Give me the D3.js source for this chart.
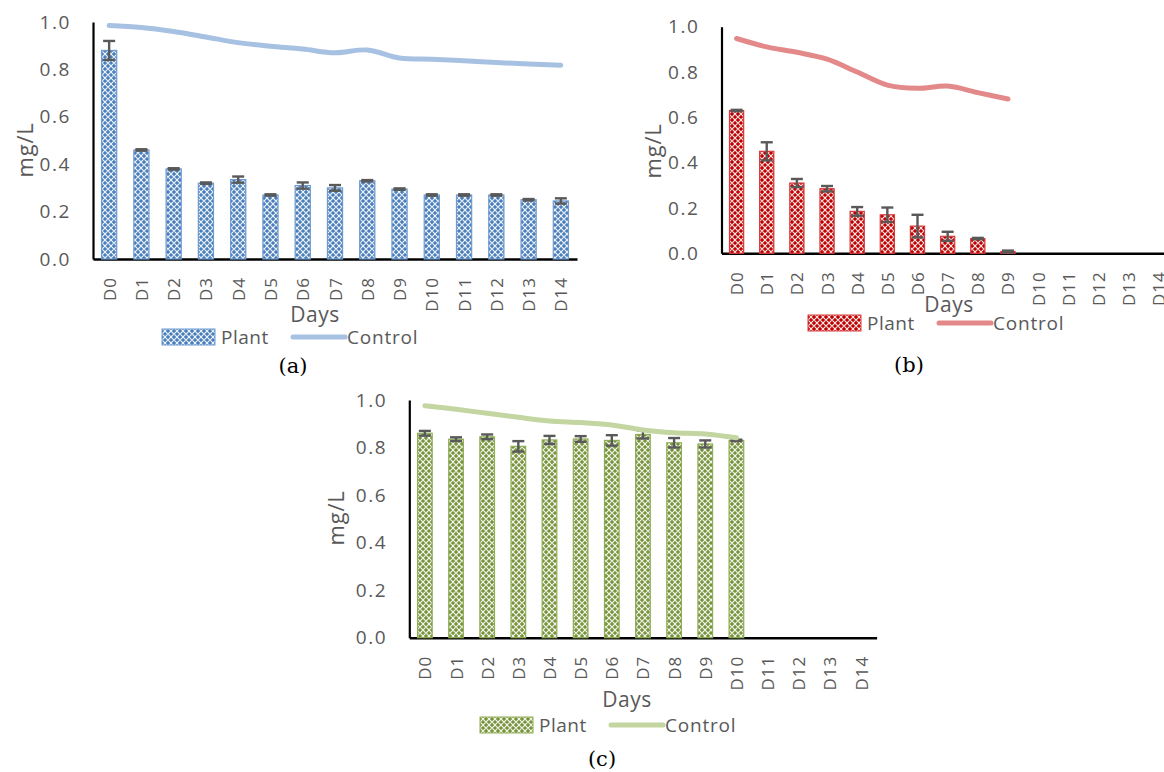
<!DOCTYPE html>
<html>
<head>
<meta charset="utf-8">
<script src="https://cdn.jsdelivr.net/npm/d3@7/dist/d3.min.js"></script>
<style>
  html, body { margin: 0; padding: 0; background: #fff; }
  svg { display: block; }
  .tick text { font-family: "Open Sans", sans-serif; fill: #595959; }
</style>
</head>
<body>
<svg id="chart" width="1164" height="772"></svg>
<script>
// Sampling days shared by all three panels
const days = ["D0","D1","D2","D3","D4","D5","D6","D7","D8","D9","D10","D11","D12","D13","D14"];
const yTicks = [0, 0.2, 0.4, 0.6, 0.8, 1.0];

// (a) concentration, mg/L
const plantA   = [0.88, 0.46, 0.38, 0.32, 0.335, 0.27, 0.31, 0.30, 0.33, 0.295, 0.27, 0.27, 0.27, 0.25, 0.245];
const errA     = [0.04, 0.003, 0.003, 0.003, 0.013, 0.003, 0.013, 0.012, 0.003, 0.003, 0.003, 0.003, 0.003, 0.003, 0.011];
const controlA = [0.985, 0.977, 0.96, 0.937, 0.913, 0.898, 0.886, 0.870, 0.882, 0.848, 0.843, 0.836, 0.829, 0.823, 0.818];

// (b)
const plantB   = [0.63, 0.45, 0.31, 0.285, 0.185, 0.17, 0.12, 0.075, 0.065, 0.008];
const errB     = [0.003, 0.04, 0.018, 0.012, 0.019, 0.032, 0.05, 0.02, 0.003, 0.004];
const controlB = [0.948, 0.911, 0.887, 0.857, 0.80, 0.742, 0.728, 0.738, 0.709, 0.681];

// (c)
const plantC   = [0.86, 0.835, 0.845, 0.805, 0.832, 0.836, 0.83, 0.855, 0.82, 0.815, 0.83];
const errC     = [0.01, 0.008, 0.01, 0.022, 0.017, 0.012, 0.022, 0.017, 0.02, 0.015, 0.003];
const controlC = [0.976, 0.961, 0.944, 0.927, 0.912, 0.905, 0.895, 0.874, 0.862, 0.857, 0.841];

const svg = d3.select("#chart");
const defs = svg.append("defs");
const FONT = "Open Sans, sans-serif";

// Diamond-lattice fill for the bars
function makePattern(id, color) {
  const p = defs.append("pattern")
    .attr("id", id).attr("patternUnits", "userSpaceOnUse")
    .attr("width", 6).attr("height", 6);
  p.append("rect").attr("width", 6).attr("height", 6).attr("fill", color);
  p.append("path").attr("d", "M0,3 L3,0 L6,3 L3,6 Z")
    .attr("fill", "none").attr("stroke", "#fff").attr("stroke-width", 1.1).attr("opacity", 0.9);
}

function drawPanel(o) {
  makePattern(o.id + "-pat", o.barColor);
  const g = svg.append("g");

  const x = d3.scaleBand().domain(days)
    .range([o.left, o.right]).paddingInner(0.53).paddingOuter(0.265);
  const y = d3.scaleLinear().domain([0, 1]).range([o.bottom, o.top]);

  // y axis
  const ya = g.append("g").attr("transform", `translate(${o.left},0)`)
    .call(d3.axisLeft(y).tickValues(yTicks).tickFormat(d3.format(".1f"))
      .tickSize(0).tickPadding(22));
  ya.select(".domain").attr("stroke", "#000").attr("stroke-width", 2.2);
  ya.selectAll(".tick text").attr("font-size", 19).attr("letter-spacing", 1.6);

  // x axis
  const xa = g.append("g").attr("transform", `translate(0,${o.bottom})`)
    .call(d3.axisBottom(x).tickSize(0).tickSizeOuter(0));
  xa.select(".domain").attr("stroke", "#000").attr("stroke-width", 2.5);
  xa.selectAll(".tick text")
    .attr("font-size", 17).attr("letter-spacing", 1)
    .attr("text-anchor", "end").attr("dy", null)
    .attr("dominant-baseline", "central")
    .attr("transform", "translate(0,18) rotate(-90)")
    .attr("x", 0).attr("y", 0);

  // bars
  const bw = x.bandwidth();
  g.append("g").selectAll("rect").data(o.plant).join("rect")
    .attr("x", (d, i) => x(days[i]))
    .attr("y", d => y(d))
    .attr("width", bw)
    .attr("height", d => y(0) - y(d))
    .attr("fill", `url(#${o.id}-pat)`)
    .attr("stroke", o.barEdge).attr("stroke-width", 1.2);

  // error bars
  const eg = g.append("g").attr("stroke", "#595959").attr("stroke-width", 2.4);
  o.plant.forEach((v, i) => {
    const cx = x(days[i]) + bw / 2, e = o.err[i];
    eg.append("line").attr("x1", cx).attr("x2", cx).attr("y1", y(v + e)).attr("y2", y(v - e));
    eg.append("line").attr("x1", cx - 6).attr("x2", cx + 6).attr("y1", y(v + e)).attr("y2", y(v + e));
    eg.append("line").attr("x1", cx - 6).attr("x2", cx + 6).attr("y1", y(v - e)).attr("y2", y(v - e));
  });

  // control line
  const line = d3.line()
    .x((d, i) => x(days[i]) + bw / 2)
    .y(d => y(d))
    .curve(d3.curveCatmullRom.alpha(0.5));
  g.append("path").datum(o.control).attr("d", line)
    .attr("fill", "none").attr("stroke", o.lineColor)
    .attr("stroke-width", 5).attr("stroke-linecap", "round").attr("stroke-linejoin", "round");

  // axis titles
  g.append("text").attr("transform", `translate(${o.yTitleX},${o.yTitleY}) rotate(-90)`)
    .attr("text-anchor", "middle").attr("dominant-baseline", "central")
    .attr("font-family", FONT).attr("font-size", 22).attr("letter-spacing", 0.8)
    .attr("fill", "#595959").text("mg/L");
  g.append("text").attr("x", o.xTitleX).attr("y", o.xTitleY)
    .attr("text-anchor", "middle")
    .attr("font-family", FONT).attr("font-size", 21).attr("letter-spacing", 0.5)
    .attr("fill", "#595959").text("Days");

  // legend
  const lg = g.append("g").attr("transform", `translate(${o.legX},${o.legY})`);
  lg.append("rect").attr("x", 0).attr("y", -8).attr("width", 53).attr("height", 16)
    .attr("fill", `url(#${o.id}-pat)`).attr("stroke", o.barEdge).attr("stroke-width", 1);
  lg.append("text").attr("x", 59).attr("y", 0).attr("dominant-baseline", "central")
    .attr("font-family", FONT).attr("font-size", 19).attr("letter-spacing", 0.5)
    .attr("fill", "#595959").text("Plant");
  lg.append("line").attr("x1", 131).attr("x2", 183).attr("y1", 0).attr("y2", 0)
    .attr("stroke", o.lineColor).attr("stroke-width", 5).attr("stroke-linecap", "round");
  lg.append("text").attr("x", 185).attr("y", 0).attr("dominant-baseline", "central")
    .attr("font-family", FONT).attr("font-size", 19).attr("letter-spacing", 0.8)
    .attr("fill", "#595959").text("Control");

  // panel label
  g.append("text").attr("x", o.labX).attr("y", o.labY).attr("text-anchor", "middle")
    .attr("font-family", "DejaVu Serif, serif").attr("font-size", 21)
    .attr("fill", "#000").text(o.label);
}

drawPanel({
  id: "a", plant: plantA, err: errA, control: controlA,
  barColor: "#4a7ebb", barEdge: "#6d9bd1", lineColor: "#a7c1e2",
  left: 93, right: 577, top: 22, bottom: 259,
  yTitleX: 24, yTitleY: 150, xTitleX: 315, xTitleY: 322,
  legX: 162, legY: 337, labX: 293, labY: 373, label: "(a)"
});

drawPanel({
  id: "b", plant: plantB, err: errB, control: controlB,
  barColor: "#c00000", barEdge: "#d83a3a", lineColor: "#e38989",
  left: 721.5, right: 1173.8, top: 26.7, bottom: 253.3,
  yTitleX: 652, yTitleY: 151, xTitleX: 949, xTitleY: 312,
  legX: 808, legY: 323, labX: 909, labY: 372, label: "(b)"
});

drawPanel({
  id: "c", plant: plantC, err: errC, control: controlC,
  barColor: "#77933c", barEdge: "#8fae52", lineColor: "#c3d5a0",
  left: 409.3, right: 876.6, top: 400, bottom: 637.7,
  yTitleX: 335, yTitleY: 518, xTitleX: 627, xTitleY: 707,
  legX: 480, legY: 725, labX: 602, labY: 766, label: "(c)"
});
</script>
</body>
</html>
